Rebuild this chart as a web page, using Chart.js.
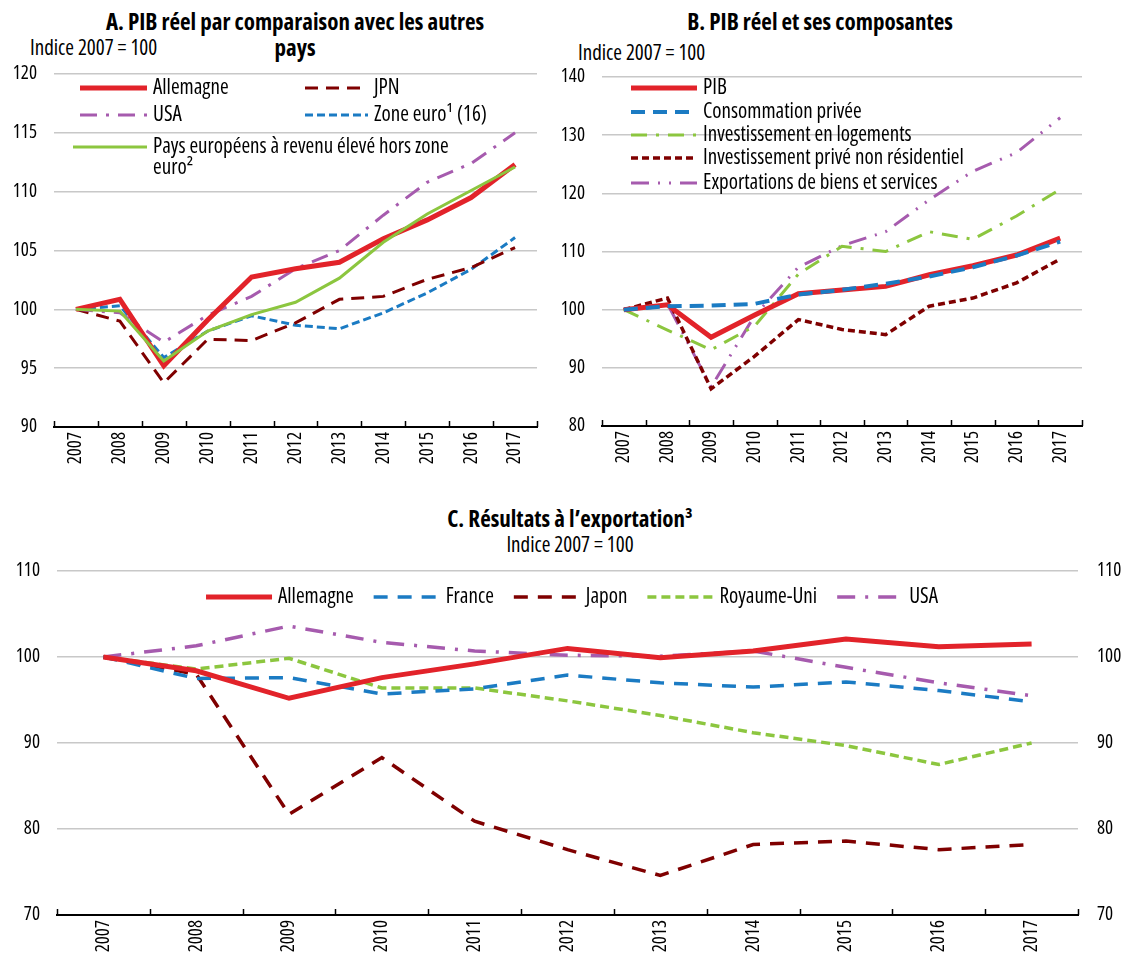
<!DOCTYPE html>
<html><head><meta charset="utf-8">
<script src="https://cdn.jsdelivr.net/npm/chart.js@4.4.1/dist/chart.umd.min.js"></script>
<style>
body{margin:0;background:#fff;width:1128px;height:961px;position:relative;overflow:hidden;font-family:'Open Sans',sans-serif;font-stretch:75%;color:#000}
.t{position:absolute;white-space:nowrap}
.title{font-weight:bold;font-size:23px;text-align:center;line-height:26px}
.sub{font-size:21px;line-height:22px}
canvas{position:absolute}
</style></head><body>
<div class="t title" style="left:95px;top:8px;width:400px">A. PIB réel par comparaison avec les autres<br>pays</div>
<div class="t sub" style="left:30px;top:36px">Indice 2007 = 100</div>
<div class="t title" style="left:620px;top:8px;width:400px">B. PIB réel et ses composantes</div>
<div class="t sub" style="left:578px;top:41px">Indice 2007 = 100</div>
<div class="t title" style="left:370px;top:505px;width:400px">C. Résultats à l’exportation³</div>
<div class="t sub" style="left:370px;top:533px;width:400px;text-align:center">Indice 2007 = 100</div>
<canvas id="ca" width="564" height="490" style="left:0;top:0"></canvas>
<canvas id="cb" width="588" height="490" style="left:540px;top:0"></canvas>
<canvas id="cc" width="1128" height="461" style="left:0;top:500px"></canvas>
<script>
// ---- Data ----
const years = ['2007','2008','2009','2010','2011','2012','2013','2014','2015','2016','2017'];

// Panel A : PIB réel, Indice 2007 = 100
const aAllemagne = [100,100.85,95.2,99.1,102.75,103.45,104.0,106.0,107.6,109.5,112.3];
const aJPN = [100,99.0,93.75,97.45,97.35,98.85,100.85,101.1,102.55,103.55,105.25];
const aUSA = [100,99.7,97.2,99.5,101.1,103.45,105.0,108.0,110.8,112.4,115.0];
const aZoneEuro = [100,100.3,95.9,98.15,99.45,98.65,98.35,99.7,101.4,103.4,106.1];
const aHorsZone = [100,99.85,95.6,98.15,99.55,100.6,102.65,105.7,108.1,110.1,112.1];
const aTicks = [90,95,100,105,110,115,120];

// Panel B : PIB réel et ses composantes
const bPIB = [100,100.85,95.25,99.1,102.75,103.4,104.0,106.0,107.55,109.4,112.3];
const bConso = [100,100.6,100.7,101.0,102.6,103.4,104.45,105.7,107.3,109.3,111.7];
const bLogements = [100,96.5,93.1,97.2,106.1,110.9,110.0,113.4,112.1,116.1,120.7];
const bNonRes = [100,102.0,86.4,92.0,98.3,96.6,95.7,100.6,102.0,104.6,108.7];
const bExport = [100,101.0,86.7,99.0,107.3,111.0,113.4,118.9,123.8,127.0,133.0];
const bTicks = [80,90,100,110,120,130,140];

// Panel C : Résultats à l'exportation
const cAllemagne = [100,98.4,95.2,97.6,99.2,101.0,99.9,100.7,102.1,101.2,101.5];
const cFrance = [100,97.5,97.6,95.7,96.3,97.9,97.0,96.5,97.1,96.1,94.8];
const cJapon = [100,98.0,81.7,88.3,80.9,77.6,74.6,78.2,78.6,77.6,78.2];
const cRoyaumeUni = [100,98.6,99.85,96.4,96.4,94.9,93.2,91.2,89.7,87.5,90.0];
const cUSA = [100,101.3,103.6,101.7,100.7,100.2,100.1,100.7,98.8,97.0,95.5];
const cTicks = [70,80,90,100,110];

// ---- Styles ----
const RED='#E2232A', DRED='#7F0000', PURPLE='#A65BAE', BLUE='#1B7BC3', GREEN='#8CC63F';
const FONT = "'Open Sans',sans-serif";
Chart.defaults.font.family = FONT;
Chart.defaults.font.size = 19;
Chart.defaults.font.weight = 'condensed';
Chart.defaults.color = '#000';

function ds(label, data, color, width, dash, order){
  return {label, data, borderColor:color, backgroundColor:color, borderWidth:width,
    borderDash:dash, pointRadius:0, tension:0, fill:false, order, borderCapStyle:'butt', borderJoinStyle:'miter'};
}

const tickPlugin = {
  id:'boundaryTicks',
  afterDraw(chart){
    const x = chart.scales.x, ctx = chart.ctx, n = chart.data.labels.length;
    const y = chart.chartArea.bottom;
    ctx.save(); ctx.strokeStyle='#000'; ctx.lineWidth=1.5;
    for(let i=0;i<=n;i++){
      const px = Math.round(x.getPixelForValue(i-0.5))+0.5;
      ctx.beginPath(); ctx.moveTo(px,y); ctx.lineTo(px,y-6); ctx.stroke();
    }
    ctx.restore();
  }
};

const legendPlugin = {
  id:'customLegend',
  afterDraw(chart, args, opts){
    if(!opts || !opts.items) return;
    const ctx = chart.ctx;
    ctx.save();
    ctx.font = 'condensed ' + opts.size + 'px ' + FONT;
    ctx.textBaseline='middle'; ctx.textAlign='left';
    let items = opts.items.map(o=>Object.assign({},o));
    if(opts.row){
      let total = 0;
      items.forEach((it,k)=>{ const w = ctx.measureText(chart.data.datasets[it.index].label).width; it.w=w; total += opts.len + opts.gap + w + (k<items.length-1?opts.between:0); });
      let x = opts.cx - total/2;
      items.forEach(it=>{ it.x = x; it.y = opts.y; it.len = opts.len; x += opts.len + opts.gap + it.w + opts.between; });
    }
    items.forEach(it=>{
      const d = chart.data.datasets[it.index];
      ctx.strokeStyle = d.borderColor; ctx.lineWidth = d.borderWidth; ctx.setLineDash(d.borderDash||[]);
      ctx.lineCap='butt';
      ctx.beginPath(); ctx.moveTo(it.x, it.y); ctx.lineTo(it.x+it.len, it.y); ctx.stroke();
      ctx.setLineDash([]);
      ctx.fillStyle='#000';
      d.label.split('\n').forEach((l,k)=> ctx.fillText(l, it.x+it.len+(opts.gap||6), it.y + k*(opts.lh||21)));
    });
    ctx.restore();
  }
};

function xScale(h){
  return { type:'category', offset:true,
    grid:{display:false, drawTicks:false},
    border:{display:true, color:'#000', width:2},
    ticks:{autoSkip:false, minRotation:90, maxRotation:90, padding:5, color:'#000', font:{size:19}},
    afterFit(s){ s.height = h; } };
}
function yScale(min,max,ticks,w,pos,showGrid){
  return { type:'linear', position:pos, min, max,
    afterBuildTicks(s){ s.ticks = ticks.map(v=>({value:v})); },
    ticks:{padding: pos==='right'?19:17, color:'#000', font:{size:19}},
    grid:{display:showGrid, color:'#C8C8C8', lineWidth:1.5, drawTicks:false},
    border:{display:false},
    afterFit(s){ s.width = w; } };
}

// Panel A
new Chart(document.getElementById('ca'), {
  type:'line',
  data:{ labels: years, datasets:[
    ds('Allemagne', aAllemagne, RED, 5, [], 2),
    ds('JPN', aJPN, DRED, 3, [13,8], 4),
    ds('USA', aUSA, PURPLE, 3, [17,9,3,9], 3),
    ds('Zone euro¹ (16)', aZoneEuro, BLUE, 3, [8,4], 5),
    ds('Pays européens à revenu élevé hors zone\neuro²', aHorsZone, GREEN, 3, [], 1)
  ]},
  options:{ responsive:false, animation:false, devicePixelRatio:1,
    layout:{padding:{top:74, right:27, left:0, bottom:0}},
    plugins:{ legend:{display:false}, tooltip:{enabled:false},
      customLegend:{ size:21, gap:6, lh:21, items:[
        {index:0, x:80, y:88, len:67}, {index:1, x:305, y:88, len:63},
        {index:2, x:80, y:115, len:67}, {index:3, x:305, y:115, len:63},
        {index:4, x:73, y:147, len:74} ] } },
    scales:{ x:xScale(63), y:yScale(90,120,aTicks,54,'left',true) }
  },
  plugins:[tickPlugin, legendPlugin]
});

// Panel B
new Chart(document.getElementById('cb'), {
  type:'line',
  data:{ labels: years, datasets:[
    ds('PIB', bPIB, RED, 5, [], 2),
    ds('Consommation privée', bConso, BLUE, 4, [14,8], 1),
    ds('Investissement en logements', bLogements, GREEN, 3, [16,9,3,9], 4),
    ds('Investissement privé non résidentiel', bNonRes, DRED, 3.5, [7,4], 3),
    ds('Exportations de biens et services', bExport, PURPLE, 3, [18,9,2,9,2,9], 5)
  ]},
  options:{ responsive:false, animation:false, devicePixelRatio:1,
    layout:{padding:{top:77, right:46, left:0, bottom:0}},
    plugins:{ legend:{display:false}, tooltip:{enabled:false},
      customLegend:{ size:21, gap:6, items:[
        {index:0, x:91, y:88, len:66}, {index:1, x:91, y:112, len:66},
        {index:2, x:91, y:135, len:66}, {index:3, x:91, y:158, len:66},
        {index:4, x:91, y:183, len:66} ] } },
    scales:{ x:xScale(64), y:yScale(80,140,bTicks,62,'left',true) }
  },
  plugins:[tickPlugin, legendPlugin]
});

// Panel C
new Chart(document.getElementById('cc'), {
  type:'line',
  data:{ labels: years, datasets:[
    ds('Allemagne', cAllemagne, RED, 5, [], 1),
    ds('France', cFrance, BLUE, 3.5, [14,10], 2),
    ds('Japon', cJapon, DRED, 3.5, [14,10], 3),
    ds('Royaume-Uni', cRoyaumeUni, GREEN, 3.5, [9,5], 4),
    ds('USA', cUSA, PURPLE, 3.5, [18,10,3,10], 5)
  ]},
  options:{ responsive:false, animation:false, devicePixelRatio:1,
    layout:{padding:{top:71, right:0, left:0, bottom:0}},
    plugins:{ legend:{display:false}, tooltip:{enabled:false},
      customLegend:{ size:21, gap:6, row:true, cx:572, y:97, len:66, between:20, items:[
        {index:0},{index:1},{index:2},{index:3},{index:4} ] } },
    scales:{ x:xScale(46), y:yScale(70,110,cTicks,57,'left',true),
      y2:yScale(70,110,cTicks,50,'right',false) }
  },
  plugins:[tickPlugin, legendPlugin]
});
</script>
</body></html>
